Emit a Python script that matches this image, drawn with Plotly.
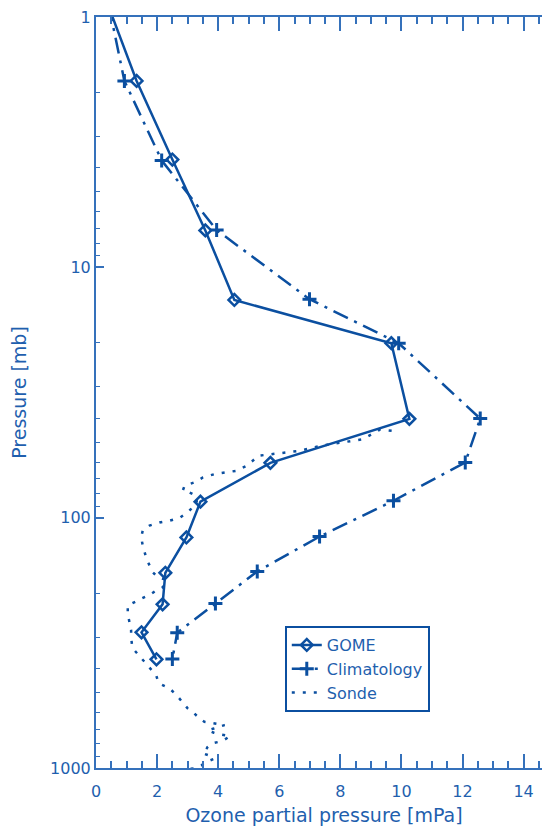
import plotly.graph_objects as go

# GOME retrieval (diamonds)
gome_x = [0.40, 1.33, 2.50, 3.58, 4.53, 9.67, 10.26, 5.71, 3.42, 2.96, 2.27, 2.18, 1.49, 1.98]
gome_p = [0.90, 1.80, 3.71, 7.12, 13.5, 20.1, 40.3, 60.4, 86.3, 120, 166, 222, 287, 368]

# Climatology (plus markers)
clim_x = [0.42, 0.93, 2.15, 3.95, 6.99, 9.91, 12.58, 12.09, 9.74, 7.32, 5.28, 3.91, 2.66, 2.50]
clim_p = [0.90, 1.80, 3.74, 7.10, 13.4, 20.1, 40.2, 60.2, 85.6, 119, 164, 220, 288, 367]

# Ozone sonde profile (dotted)
sonde_x = [9.68, 9.30, 8.73, 8.03, 7.37, 6.66, 6.01, 5.30, 5.13, 4.92, 4.59, 4.15, 3.88,
           3.50, 3.22, 2.90, 2.84, 3.06, 3.28, 3.30, 3.06, 2.73, 2.41, 2.08, 1.75, 1.53,
           1.48, 1.53, 1.59, 1.64, 1.73, 1.86, 2.02, 2.30, 2.19, 1.97, 1.81, 1.59, 1.32,
           1.04, 1.04, 1.10, 1.15, 1.15, 1.18, 1.26, 1.53, 1.75, 1.97, 2.02, 2.08, 2.41,
           2.64, 2.84, 3.00, 3.22, 3.39, 3.55, 3.85, 4.21, 3.86, 3.66, 3.86, 4.04, 4.39,
           4.13, 3.80, 3.64, 3.61, 3.50, 3.75, 3.86, 3.58, 3.46, 3.22, 2.86, 2.57]
sonde_p = [45.0, 44.5, 48.6, 50.1, 51.6, 54.1, 55.4, 56.6, 59.3, 62.1, 65.0, 66.0, 67.0,
           69.1, 72.3, 74.6, 78.0, 79.3, 81.7, 87.0, 93.8, 100.3, 102.8, 104.5, 107.6, 112.7,
           119.8, 129.3, 137.5, 144.0, 153.0, 165.2, 173.0, 177.0, 189.5, 195.4, 201.5, 207.8, 214.3,
           224.2, 242.2, 261.4, 282.0, 299.8, 323.6, 338.8, 371.5, 397, 426, 446, 460, 481,
           512, 550, 578, 606, 634, 654, 664, 674, 695, 706, 723, 734, 746,
           781, 797, 828, 854, 874, 895, 920, 949, 975, 1003, 1009, 1019]

x_ticks = [0, 2, 4, 6, 8, 10, 12, 14]
y_ticks = [1, 10, 100, 1000]
y_tick_text = ["1", "10", "100", "1000"]
y_minor = [m * d for d in [1, 10, 100] for m in range(2, 10)]

LINE = "#0b4fa0"
AXIS = "#3571bb"
TEXT = "#1f5fae"
FONT = "DejaVu Sans"

fig = go.Figure()
fig.add_trace(go.Scatter(
    x=gome_x, y=gome_p, name="GOME", mode="lines+markers",
    line=dict(color=LINE, width=2.5),
    marker=dict(symbol="diamond-open", size=9, color=LINE, line=dict(width=2.5, color=LINE)),
    cliponaxis=True))
fig.add_trace(go.Scatter(
    x=clim_x, y=clim_p, name="Climatology", mode="lines+markers",
    line=dict(color=LINE, width=2.5, dash="16px,7px,3px,7px"),
    marker=dict(symbol="cross-thin", size=10, color=LINE, line=dict(width=3, color=LINE)),
    cliponaxis=True))
fig.add_trace(go.Scatter(
    x=sonde_x, y=sonde_p, name="Sonde", mode="lines",
    line=dict(color=LINE, width=2.5, dash="3px,8px"),
    cliponaxis=True))

fig.update_layout(
    width=544, height=818,
    margin=dict(l=88, r=0, t=7, b=58),
    paper_bgcolor="white", plot_bgcolor="white",
    font=dict(family=FONT, size=16, color=TEXT),
    showlegend=True,
    legend=dict(x=0.414, y=0.189, xanchor="left", yanchor="top",
                bordercolor=LINE, borderwidth=2, bgcolor="white",
                entrywidth=150, entrywidthmode="pixels",
                font=dict(family=FONT, size=16, color=TEXT)),
    xaxis=dict(range=[0, 14.93], tickvals=x_ticks, ticks="inside", ticklen=14,
               tickwidth=1.5, tickcolor=AXIS, showline=True, linecolor=AXIS, linewidth=2,
               mirror="ticks", showgrid=False, zeroline=False, ticklabelstandoff=8,
               minor=dict(dtick=0.5, tick0=0, ticks="inside", ticklen=7, tickwidth=1.5,
                          tickcolor=AXIS, showgrid=False),
               title=dict(text="Ozone partial pressure [mPa]", standoff=8)),
    yaxis=dict(type="log", range=[3.0, 0], tickvals=y_ticks, ticktext=y_tick_text,
               ticks="inside", ticklen=8, tickwidth=1.5, tickcolor=AXIS, showline=True,
               linecolor=AXIS, linewidth=2, showgrid=False, zeroline=False,
               ticklabeloverflow="allow",
               minor=dict(tickvals=y_minor, ticks="inside", ticklen=4, tickwidth=1.2,
                          tickcolor=AXIS, showgrid=False),
               title=dict(text="Pressure [mb]", standoff=29)),
    yaxis2=dict(type="log", range=[3.0, 0], overlaying="y", side="right", anchor="x",
                tickvals=y_ticks, showticklabels=False, ticks="inside", ticklen=8,
                tickwidth=1.2, tickcolor=AXIS, showline=False, showgrid=False, zeroline=False,
                minor=dict(tickvals=y_minor, ticks="inside", ticklen=4, tickwidth=1.2,
                           tickcolor=AXIS, showgrid=False)),
)

fig.write_html("out.html")
